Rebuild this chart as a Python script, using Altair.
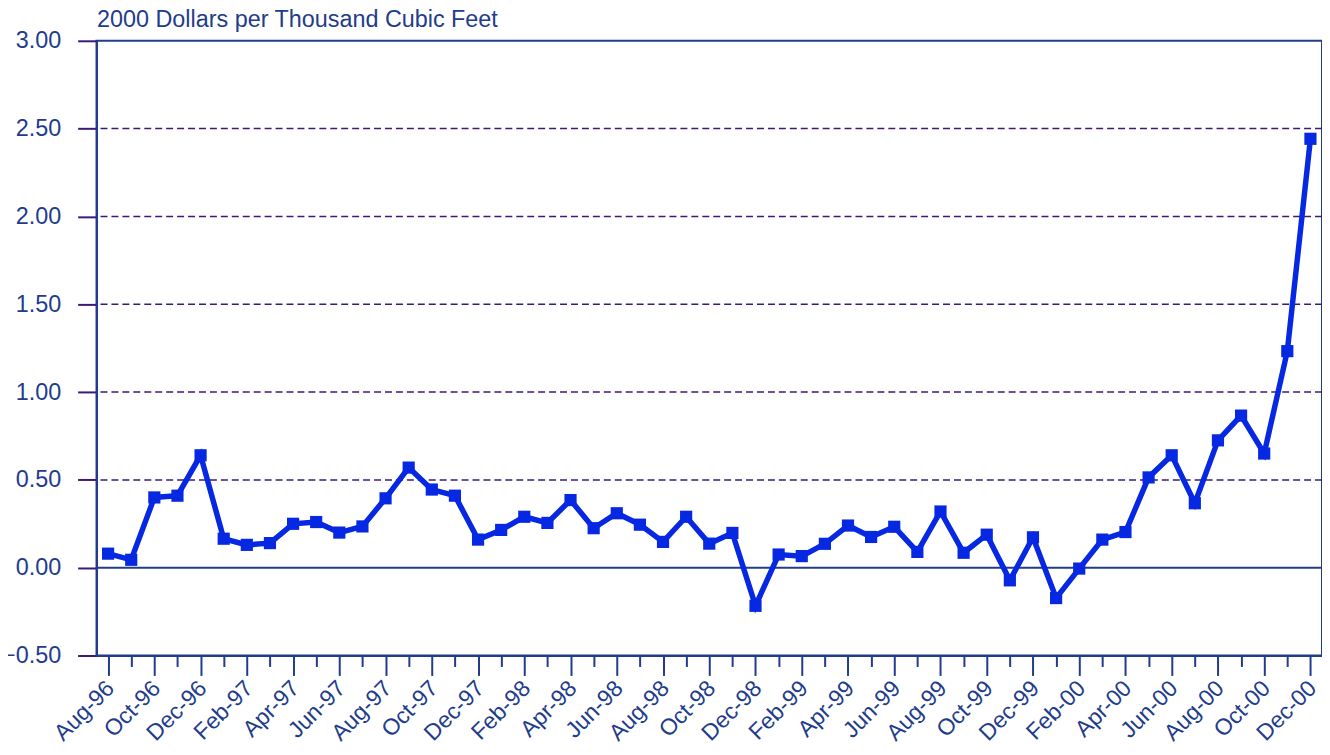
import altair as alt
import pandas as pd

months = ["Aug-96", "Sep-96", "Oct-96", "Nov-96", "Dec-96",
          "Jan-97", "Feb-97", "Mar-97", "Apr-97", "May-97", "Jun-97",
          "Jul-97", "Aug-97", "Sep-97", "Oct-97", "Nov-97", "Dec-97",
          "Jan-98", "Feb-98", "Mar-98", "Apr-98", "May-98", "Jun-98",
          "Jul-98", "Aug-98", "Sep-98", "Oct-98", "Nov-98", "Dec-98",
          "Jan-99", "Feb-99", "Mar-99", "Apr-99", "May-99", "Jun-99",
          "Jul-99", "Aug-99", "Sep-99", "Oct-99", "Nov-99", "Dec-99",
          "Jan-00", "Feb-00", "Mar-00", "Apr-00", "May-00", "Jun-00",
          "Jul-00", "Aug-00", "Sep-00", "Oct-00", "Nov-00", "Dec-00"]

values = [0.08, 0.045, 0.40, 0.41, 0.64,
          0.165, 0.13, 0.14, 0.25, 0.26, 0.20,
          0.235, 0.395, 0.57, 0.445, 0.41, 0.16,
          0.215, 0.29, 0.255, 0.385, 0.225, 0.31,
          0.245, 0.147, 0.29, 0.137, 0.198, -0.217,
          0.075, 0.066, 0.136, 0.24, 0.175, 0.233,
          0.09, 0.32, 0.085, 0.188, -0.072, 0.173,
          -0.173, -0.005, 0.16, 0.203, 0.514, 0.64,
          0.367, 0.725, 0.866, 0.65, 1.233, 2.442]

y_ticks = [-0.5, 0.0, 0.5, 1.0, 1.5, 2.0, 2.5, 3.0]
grid_dashed = [0.5, 1.0, 1.5, 2.0, 2.5]
zero_line = [0.0]

title_text = "2000 Dollars per Thousand Cubic Feet"

NAVY = "#223C8C"
PURPLE = "#3C1A78"
BLUE = "#0628E2"
FONT = "Liberation Sans"

df = pd.DataFrame({"i": list(range(len(months))), "month": months, "value": values})
grid_df = pd.DataFrame({"v": grid_dashed})
zero_df = pd.DataFrame({"v": zero_line})

label_array = "[" + ",".join("'" + m + "'" for m in months) + "]"

x_scale = alt.Scale(domain=[-0.5, len(months) - 0.5], nice=False, zero=False)
y_scale = alt.Scale(domain=[-0.5, 3.0], nice=False, zero=False)

x_axis = alt.Axis(
    values=list(range(len(months))),
    labelExpr=f"datum.value % 2 === 0 ? {label_array}[datum.value] : ''",
    labelAngle=-45,
    labelAlign="right",
    labelBaseline="middle",
    labelPadding=9,
    labelOffset=2,
    labelFontSize=23,
    labelFont=FONT,
    labelColor=NAVY,
    labelOverlap=False,
    labelBound=False,
    tickSize={"condition": {"test": "datum.value % 2 === 0", "value": 20}, "value": 11},
    tickColor=NAVY,
    tickWidth=2,
    domainColor=NAVY,
    domainWidth=2,
    grid=False,
    title=None,
)

y_axis = alt.Axis(
    values=y_ticks,
    format=".2f",
    labelFontSize=23.5,
    labelFont=FONT,
    labelColor=NAVY,
    labelPadding=17,
    tickSize=19,
    tickColor=PURPLE,
    tickWidth=2,
    domainColor=NAVY,
    domainWidth=2,
    grid=False,
    title=title_text,
    titleAngle=0,
    titleAlign="left",
    titleBaseline="alphabetic",
    titleX=0,
    titleY=-14,
    titleFont=FONT,
    titleFontSize=23.5,
    titleFontWeight="normal",
    titleColor=NAVY,
)

grid = alt.Chart(grid_df).mark_rule(
    color=PURPLE, strokeWidth=1.5, strokeDash=[7, 4]
).encode(y=alt.Y("v:Q", scale=y_scale, axis=y_axis, title=title_text))

zero = alt.Chart(zero_df).mark_rule(
    color=NAVY, strokeWidth=2
).encode(y=alt.Y("v:Q", scale=y_scale, axis=y_axis, title=title_text))

base = alt.Chart(df).encode(
    x=alt.X("i:Q", scale=x_scale, axis=x_axis),
    y=alt.Y("value:Q", scale=y_scale, axis=y_axis, title=title_text),
)

line = base.mark_line(color=BLUE, strokeWidth=5.5)
points = base.mark_point(shape="square", filled=True, size=150, color=BLUE, opacity=1)

chart = alt.layer(grid, zero, line, points).properties(
    width=1232,
    height=618,
    background="white",
    autosize=alt.AutoSizeParams(type="none"),
    padding={"left": 89, "top": 31, "right": 0, "bottom": 90},
).configure_view(
    stroke=NAVY, strokeWidth=2
)

chart.save("out.html", embed_options={"renderer": "svg", "actions": False})
